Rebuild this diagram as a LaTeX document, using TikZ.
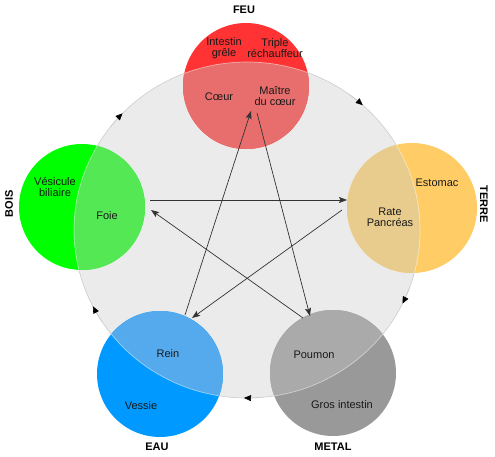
\documentclass[tikz,border=0pt]{standalone}
\usepackage{fontspec}
\setmainfont{Liberation Sans}
\usetikzlibrary{arrows.meta}
\definecolor{bigfill}{HTML}{EBEBEB}
\definecolor{edgegray}{HTML}{CCCCCC}
\definecolor{feuC}{HTML}{FF3333}
\definecolor{feuO}{HTML}{E86E6E}
\definecolor{boisC}{HTML}{00FF00}
\definecolor{boisO}{HTML}{55E855}
\definecolor{terreC}{HTML}{FFCC66}
\definecolor{terreO}{HTML}{E8CC8E}
\definecolor{eauC}{HTML}{0099FF}
\definecolor{eauO}{HTML}{55AAEE}
\definecolor{metalC}{HTML}{999999}
\definecolor{metalO}{HTML}{AAAAAA}
\newcommand\elemcircle[4]{%
  \fill[#3] #1 circle[radius=#2];
  \begin{scope}
    \clip #1 circle[radius=#2];
    \fill[#4] (O) ellipse[x radius=173,y radius=168];
    \draw[white,opacity=0.5,line width=0.7pt] (O) ellipse[x radius=173,y radius=168];
  \end{scope}}
\newcommand\cycarrow[1]{%
  \draw[cyc] (O) ++(#1-6:173 and 168) arc[start angle=#1-6,end angle=#1,x radius=173,y radius=168];}
\begin{document}
\begin{tikzpicture}[x=1pt,y=-1pt,
  lbl/.style={font=\fontsize{11}{11}\selectfont\bfseries},
  organ/.style={font=\fontsize{11}{11}\selectfont,align=center,text=black!90,inner sep=0pt},
  link/.style={draw=black!80,line width=0.7pt,-{Stealth[length=8pt,width=6pt,inset=1.5pt]}},
  cyc/.style={draw=edgegray,line width=0.6pt,-{Triangle[length=7pt,width=6pt,color=black]}}]
\useasboundingbox (0,0) rectangle (495,457);
\coordinate (O) at (247,230);
\fill[bigfill] (O) ellipse[x radius=173,y radius=168];
\draw[edgegray,line width=0.6pt] (O) ellipse[x radius=173,y radius=168];

\elemcircle{(246,86)}{63}{feuC}{feuO}
\elemcircle{(82,207)}{63}{boisC}{boisO}
\elemcircle{(412,208)}{65}{terreC}{terreO}
\elemcircle{(160,374)}{63}{eauC}{eauO}
\elemcircle{(333,373)}{63}{metalC}{metalO}

% cycle arrows
\cycarrow{-136}
\cycarrow{-48}
\cycarrow{26}
\cycarrow{91}
\cycarrow{153}

% element labels
\node[lbl] (feu) at (244,10) {FEU};
\node[lbl,rotate=90] (bois) at (9,204) {BOIS};
\node[lbl,rotate=-90] (terre) at (484,204) {TERRE};
\node[lbl] (eau) at (157,447) {EAU};
\node[lbl] (metal) at (333,447) {METAL};

% organ labels
\node[organ] (ig) at (224,48) {Intestin\\grêle};
\node[organ] (tr) at (275,48) {Triple\\réchauffeur};
\node[organ] (coeur) at (219,97) {Cœur};
\node[organ] (mc) at (275,96) {Maître\\du cœur};
\node[organ] (vb) at (55,187) {Vésicule\\biliaire};
\node[organ] (foie) at (107,216) {Foie};
\node[organ] (estomac) at (437,183) {Estomac};
\node[organ] (rate) at (390,217) {Rate\\Pancréas};
\node[organ] (rein) at (168,354) {Rein};
\node[organ] (vessie) at (141,406) {Vessie};
\node[organ] (poumon) at (314,355) {Poumon};
\node[organ] (gi) at (342,405) {Gros intestin};

% star connector end points
\coordinate (foieR) at (150,200);
\coordinate (rateL) at (347,200);
\coordinate (rateLo) at (342,210);
\coordinate (reinT) at (192,318);
\coordinate (reinTo) at (185,315);
\coordinate (coeurB) at (251,111);
\coordinate (coeurBo) at (257,113);
\coordinate (poumonT) at (310,316);
\coordinate (poumonTo) at (303,318);
\coordinate (foieRo) at (151,210);

\draw[link] (foieR) -- (rateL);
\draw[link] (rateLo) -- (reinT);
\draw[link] (reinTo) -- (coeurB);
\draw[link] (coeurBo) -- (poumonT);
\draw[link] (poumonTo) -- (foieRo);
\end{tikzpicture}
\end{document}
